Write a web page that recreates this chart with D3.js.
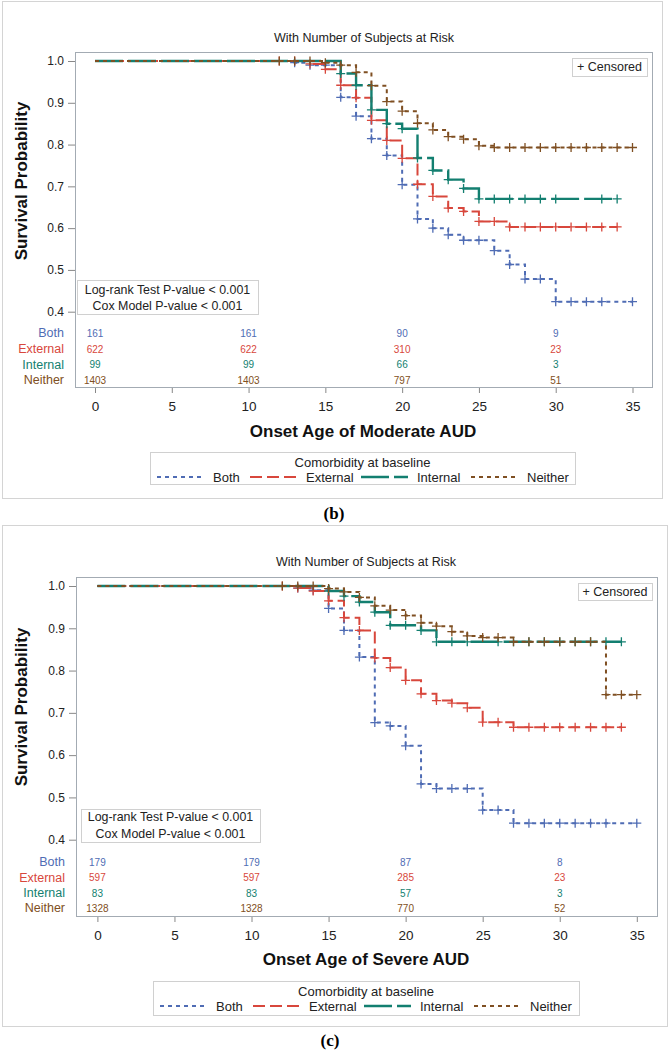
<html>
  <head>
    <meta charset="UTF-8">
    <style>
      body { margin: 0; background: #fff; }
      text { font-family: Arial, "Liberation Sans", sans-serif; }
    </style>
  </head>
  <body>
    <script src="https://cdn.jsdelivr.net/npm/d3@7"></script>
    <script>

var width = 669;
var height = 1050;

// group names and styles
var groups = ["Both", "External", "Internal", "Neither"];
var colors = ["#4f6cb4", "#d8473c", "#137f70", "#7f4f22"];
var dashes = ["4,4", "12,5", "28,5", "4,4"];

var xTicks = [0, 5, 10, 15, 20, 25, 30, 35];
var yTicks = [0.4, 0.5, 0.6, 0.7, 0.8, 0.9, 1.0];
var riskTimes = [0, 10, 20, 30];

// (b) moderate AUD : [age, survival after step]
var bBoth     = [[0,1],[13,0.996],[14,0.990],[16,0.913],[17,0.868],[18,0.814],[19,0.774],[20,0.704],[21,0.622],[22,0.600],[23,0.584],[24,0.571],[26,0.546],[27,0.513],[28,0.478],[30,0.424],[35,0.424]];
var bExternal = [[0,1],[14,0.993],[15,0.980],[16,0.942],[17,0.912],[18,0.858],[19,0.810],[20,0.767],[21,0.705],[22,0.676],[23,0.648],[24,0.640],[25,0.616],[27,0.603],[34,0.603]];
var bInternal = [[0,1],[16,0.970],[17,0.942],[18,0.883],[19,0.850],[20,0.838],[21,0.768],[22,0.738],[23,0.716],[24,0.695],[25,0.670],[34,0.670]];
var bNeither  = [[0,1],[15,0.996],[16,0.990],[17,0.973],[18,0.941],[19,0.903],[20,0.880],[21,0.851],[22,0.835],[23,0.819],[24,0.813],[25,0.797],[26,0.793],[35,0.793]];

var bCensBoth     = [13,14,15,16,17,18,19,20,21,22,23,24,25,26,27,28,29,30,31,32,33,35];
var bCensExternal = [12,13,14,15,16,17,18,19,20,21,22,23,24,25,26,27,28,29,30,31,32,33,34];
var bCensInternal = [16,17,18,19,20,21,22,23,24,25,26,27,28,29,30,33,34];
var bCensNeither  = [12,13,14,15,16,17,18,19,20,21,22,23,24,25,26,27,28,29,30,31,32,33,34,35];

var bRiskBoth     = [161, 161, 90, 9];
var bRiskExternal = [622, 622, 310, 23];
var bRiskInternal = [99, 99, 66, 3];
var bRiskNeither  = [1403, 1403, 797, 51];

// (c) severe AUD
var cBoth     = [[0,1],[13,0.995],[14,0.990],[15,0.947],[16,0.895],[17,0.832],[18,0.677],[19,0.669],[20,0.622],[21,0.532],[22,0.521],[25,0.470],[27,0.439],[35,0.439]];
var cExternal = [[0,1],[13,0.995],[14,0.988],[15,0.965],[16,0.925],[17,0.895],[18,0.830],[19,0.807],[20,0.777],[21,0.745],[22,0.729],[23,0.723],[24,0.712],[25,0.678],[27,0.666],[34,0.666]];
var cInternal = [[0,1],[15,0.988],[16,0.976],[17,0.962],[18,0.938],[19,0.907],[21,0.895],[22,0.868],[34,0.868]];
var cNeither  = [[0,1],[15,0.994],[16,0.986],[17,0.973],[18,0.953],[19,0.943],[20,0.930],[21,0.913],[22,0.905],[23,0.892],[24,0.882],[25,0.878],[27,0.868],[33,0.743],[35,0.743]];

var cCensBoth     = [13,14,15,16,17,18,19,20,21,22,23,24,25,26,27,28,29,30,31,32,33,35];
var cCensExternal = [12,13,14,15,16,17,18,19,20,21,22,23,24,25,26,27,28,29,30,31,32,33,34];
var cCensInternal = [15,16,17,18,19,20,21,22,23,24,26,27,28,29,30,31,32,33,34];
var cCensNeither  = [12,13,14,15,16,17,18,19,20,21,22,23,24,25,26,27,28,29,30,31,32,33,34,35];

var cRiskBoth     = [179, 179, 87, 8];
var cRiskExternal = [597, 597, 285, 23];
var cRiskInternal = [83, 83, 57, 3];
var cRiskNeither  = [1328, 1328, 770, 52];

var svg = d3.select("body").append("svg")
    .attr("width", width).attr("height", height);

// value of the step curve at time t
function survAt(curve, t) {
    var s = 1;
    curve.forEach(function(p) { if (p[0] <= t) s = p[1]; });
    return s;
}

function drawPanel(cfg) {
    var g = svg.append("g");

    // outer frame
    g.append("rect")
        .attr("x", cfg.outer[0] + 0.5).attr("y", cfg.outer[1] + 0.5)
        .attr("width", cfg.outer[2] - cfg.outer[0]).attr("height", cfg.outer[3] - cfg.outer[1])
        .attr("fill", "none").attr("stroke", "#d4d4d4");

    g.append("text")
        .attr("x", cfg.titleX).attr("y", cfg.titleY).attr("dy", "0.35em")
        .attr("text-anchor", "middle").attr("font-size", 12.5).attr("fill", "#222")
        .text("With Number of Subjects at Risk");

    var x = d3.scaleLinear().domain([0, 35]).range(cfg.xRange);
    var y = d3.scaleLinear().domain([0.4, 1.0]).range(cfg.yRange);

    // y axis (ticks outside the frame)
    var yAxis = g.append("g")
        .attr("transform", "translate(" + cfg.plot[0] + ",0)")
        .call(d3.axisLeft(y).tickValues(yTicks).tickFormat(d3.format(".1f")).tickSize(7).tickPadding(4));
    yAxis.select(".domain").remove();
    yAxis.selectAll("line").attr("stroke", "#888");
    yAxis.selectAll("text").attr("font-size", 12).attr("fill", "#222")
        .style("font-family", "Arial, 'Liberation Sans', sans-serif");

    // x axis
    var xAxis = g.append("g")
        .attr("transform", "translate(0," + cfg.plot[3] + ")")
        .call(d3.axisBottom(x).tickValues(xTicks).tickSize(6).tickPadding(8));
    xAxis.select(".domain").remove();
    xAxis.selectAll("line").attr("stroke", "#888");
    xAxis.selectAll("text").attr("font-size", 13.5).attr("fill", "#222")
        .style("font-family", "Arial, 'Liberation Sans', sans-serif");

    // plot frame
    g.append("rect")
        .attr("x", cfg.plot[0] + 0.5).attr("y", cfg.plot[1] + 0.5)
        .attr("width", cfg.plot[2] - cfg.plot[0]).attr("height", cfg.plot[3] - cfg.plot[1])
        .attr("fill", "none").attr("stroke", "#a3abb3");

    // curves
    var line = d3.line()
        .x(function(d) { return x(d[0]); })
        .y(function(d) { return y(d[1]); })
        .curve(d3.curveStepAfter);

    cfg.curves.forEach(function(curve, i) {
        g.append("path")
            .attr("d", line(curve))
            .attr("fill", "none")
            .attr("stroke", colors[i])
            .attr("stroke-width", i == 2 ? 2.4 : 2)
            .attr("stroke-dasharray", dashes[i]);

        // censored marks
        g.selectAll(".cens" + i)
            .data(cfg.cens[i])
            .enter().append("path")
            .attr("d", function(t) {
                var cx = x(t), cy = y(survAt(curve, t));
                return "M" + (cx - 4.5) + "," + cy + "H" + (cx + 4.5) +
                       "M" + cx + "," + (cy - 4.5) + "V" + (cy + 4.5);
            })
            .attr("stroke", colors[i])
            .attr("stroke-width", 1.3)
            .attr("fill", "none");
    });

    // "+ Censored" box
    var cb = cfg.censBox;
    g.append("rect")
        .attr("x", cb[0] + 0.5).attr("y", cb[1] + 0.5)
        .attr("width", cb[2] - cb[0]).attr("height", cb[3] - cb[1])
        .attr("fill", "#fff").attr("stroke", "#d0d0d0");
    g.append("text")
        .attr("x", (cb[0] + cb[2]) / 2).attr("y", (cb[1] + cb[3]) / 2).attr("dy", "0.35em")
        .attr("text-anchor", "middle").attr("font-size", 12.5).attr("fill", "#222")
        .text("+ Censored");

    // p-value box
    var lb = cfg.logBox;
    g.append("rect")
        .attr("x", lb[0] + 0.5).attr("y", lb[1] + 0.5)
        .attr("width", lb[2] - lb[0]).attr("height", lb[3] - lb[1])
        .attr("fill", "#fff").attr("stroke", "#d0d0d0");
    ["Log-rank Test P-value < 0.001", "Cox Model P-value < 0.001"].forEach(function(s, k) {
        g.append("text")
            .attr("x", (lb[0] + lb[2]) / 2).attr("y", cfg.logLines[k]).attr("dy", "0.35em")
            .attr("text-anchor", "middle").attr("font-size", 12.4).attr("fill", "#222")
            .text(s);
    });

    // number at risk
    cfg.risk.forEach(function(row, i) {
        g.append("text")
            .attr("x", cfg.plot[0] - 11).attr("y", cfg.riskY[i]).attr("dy", "0.35em")
            .attr("text-anchor", "end").attr("font-size", 12.5).attr("fill", colors[i])
            .text(groups[i]);
        g.selectAll(".risk" + i)
            .data(row)
            .enter().append("text")
            .attr("x", function(d, k) { return x(riskTimes[k]); })
            .attr("y", cfg.riskY[i]).attr("dy", "0.35em")
            .attr("text-anchor", "middle").attr("font-size", 10).attr("fill", colors[i])
            .text(function(d) { return d; });
    });

    // axis titles
    g.append("text")
        .attr("x", cfg.xTitleX).attr("y", cfg.xTitleY).attr("dy", "0.35em")
        .attr("text-anchor", "middle").attr("font-size", 17).attr("font-weight", "bold")
        .attr("fill", "#111")
        .text(cfg.xTitle);
    g.append("text")
        .attr("transform", "translate(" + cfg.yTitleX + "," + cfg.yTitleY + ") rotate(-90)")
        .attr("dy", "0.35em")
        .attr("text-anchor", "middle").attr("font-size", 17).attr("font-weight", "bold")
        .attr("fill", "#111")
        .text("Survival Probability");

    // legend
    var lg = cfg.legend;
    g.append("rect")
        .attr("x", lg[0] + 0.5).attr("y", lg[1] + 0.5)
        .attr("width", lg[2] - lg[0]).attr("height", lg[3] - lg[1])
        .attr("fill", "#fff").attr("stroke", "#d0d0d0");
    g.append("text")
        .attr("x", (lg[0] + lg[2]) / 2).attr("y", lg[1] + 10).attr("dy", "0.35em")
        .attr("text-anchor", "middle").attr("font-size", 13).attr("fill", "#222")
        .text("Comorbidity at baseline");
    var itemX = [7, 100, 211, 321];
    groups.forEach(function(name, i) {
        var lx = lg[0] + itemX[i];
        var ly = lg[1] + 25;
        g.append("line")
            .attr("x1", lx).attr("x2", lx + 47)
            .attr("y1", ly).attr("y2", ly)
            .attr("stroke", colors[i]).attr("stroke-width", i == 2 ? 2.4 : 2)
            .attr("stroke-dasharray", dashes[i]);
        g.append("text")
            .attr("x", lx + 56).attr("y", ly).attr("dy", "0.35em")
            .attr("font-size", 13).attr("fill", "#222")
            .text(name);
    });

    // caption
    svg.append("text")
        .attr("x", cfg.capX).attr("y", cfg.capY).attr("dy", "0.35em")
        .attr("text-anchor", "middle")
        .attr("font-size", 17).attr("font-weight", "bold")
        .style("font-family", "'Liberation Serif', 'DejaVu Serif', serif")
        .text(cfg.caption);
}

drawPanel({
    outer: [2, 1, 662, 498],
    titleX: 364, titleY: 38,
    plot: [75, 52, 652, 387],
    xRange: [95, 632.5], yRange: [311.7, 61],
    curves: [bBoth, bExternal, bInternal, bNeither],
    cens: [bCensBoth, bCensExternal, bCensInternal, bCensNeither],
    risk: [bRiskBoth, bRiskExternal, bRiskInternal, bRiskNeither],
    riskY: [333, 349, 364.7, 380],
    censBox: [572, 58, 647, 76],
    logBox: [77, 280, 258, 314],
    logLines: [289.5, 305.5],
    xTitle: "Onset Age of Moderate AUD", xTitleX: 363, xTitleY: 431,
    yTitleX: 21, yTitleY: 181,
    legend: [150, 452, 575, 484],
    caption: "(b)", capX: 334, capY: 513
});

drawPanel({
    outer: [2, 525, 667, 1026],
    titleX: 366, titleY: 562,
    plot: [76, 577, 657, 916],
    xRange: [97.4, 636.8], yRange: [839.7, 586],
    curves: [cBoth, cExternal, cInternal, cNeither],
    cens: [cCensBoth, cCensExternal, cCensInternal, cCensNeither],
    risk: [cRiskBoth, cRiskExternal, cRiskInternal, cRiskNeither],
    riskY: [862, 877.7, 893, 908],
    censBox: [578, 583, 652, 600],
    logBox: [81, 809, 260, 842],
    logLines: [817, 833.5],
    xTitle: "Onset Age of Severe AUD", xTitleX: 366, xTitleY: 959,
    yTitleX: 21, yTitleY: 707,
    legend: [153, 981, 579, 1015],
    caption: "(c)", capX: 330, capY: 1040
});

    </script>
  </body>
</html>
